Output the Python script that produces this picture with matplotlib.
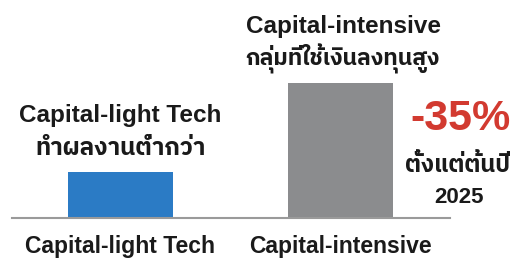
import matplotlib
matplotlib.use("Agg")
import matplotlib.pyplot as plt

plt.rcParams["font.family"] = ["Liberation Sans", "IBM Plex Sans Thai"]

categories = ["Capital-light Tech", "Capital-intensive"]
values = [34, 100]
bar_colors = ["#2b7bc5", "#8b8c8e"]
top_labels = ["Capital-light Tech", "Capital-intensive"]
thai_labels = ["ทำผลงานต่ำกว่า", "กลุ่มที่ใช้เงินลงทุนสูง"]
thai_sizes = [17.5, 16.5]
change_text = "-35%"
change_note = ["ตั้งแต่ต้นปี", "2025"]

fig = plt.figure(figsize=(5.13, 2.63), dpi=100)
ax = fig.add_axes([12 / 513, 1 - 218 / 263, 438 / 513, 218 / 263])

x = list(range(len(categories)))
width = 105 / 220
ax.bar(x, values, width=width, color=bar_colors)
ax.set_xlim(-108.5 / 220, 1 + 109.5 / 220)
ax.set_ylim(0, 100 * 218 / 135)

for s in ["top", "right", "left"]:
    ax.spines[s].set_visible(False)
ax.spines["bottom"].set_color("#9a9a9a")
ax.spines["bottom"].set_linewidth(1.5)
ax.set_yticks([])
ax.set_xticks(x)
ax.set_xticklabels(categories, fontsize=16.5, fontweight="bold", color="#1a1a1a")
ax.tick_params(axis="x", length=0, pad=12)

for i, v in enumerate(values):
    ax.annotate(top_labels[i], xy=(x[i], v), xytext=(3 * i, 50), textcoords="offset pixels",
                ha="center", va="baseline", fontsize=17.5, fontweight="bold", color="#1a1a1a")
    ax.annotate(thai_labels[i], xy=(x[i], v), xytext=(2 * i, 17), textcoords="offset pixels",
                ha="center", va="baseline", fontsize=thai_sizes[i], fontweight="bold",
                color="#1a1a1a")

# change note to the right of the tall bar
right_edge = x[1] + width / 2
ax.annotate(change_text, xy=(right_edge, values[1]), xytext=(68, -47), textcoords="offset pixels",
            ha="center", va="baseline", fontsize=31, fontweight="bold", color="#d23a30",
            annotation_clip=False)
ax.annotate(change_note[0], xy=(right_edge, values[1]), xytext=(65, -89), textcoords="offset pixels",
            ha="center", va="baseline", fontsize=17, fontweight="bold", color="#1a1a1a",
            annotation_clip=False)
ax.annotate(change_note[1], xy=(right_edge, values[1]), xytext=(66, -120), textcoords="offset pixels",
            ha="center", va="baseline", fontsize=16, fontweight="bold", color="#1a1a1a",
            annotation_clip=False)

fig.savefig("out.png", dpi=100, facecolor="white")
